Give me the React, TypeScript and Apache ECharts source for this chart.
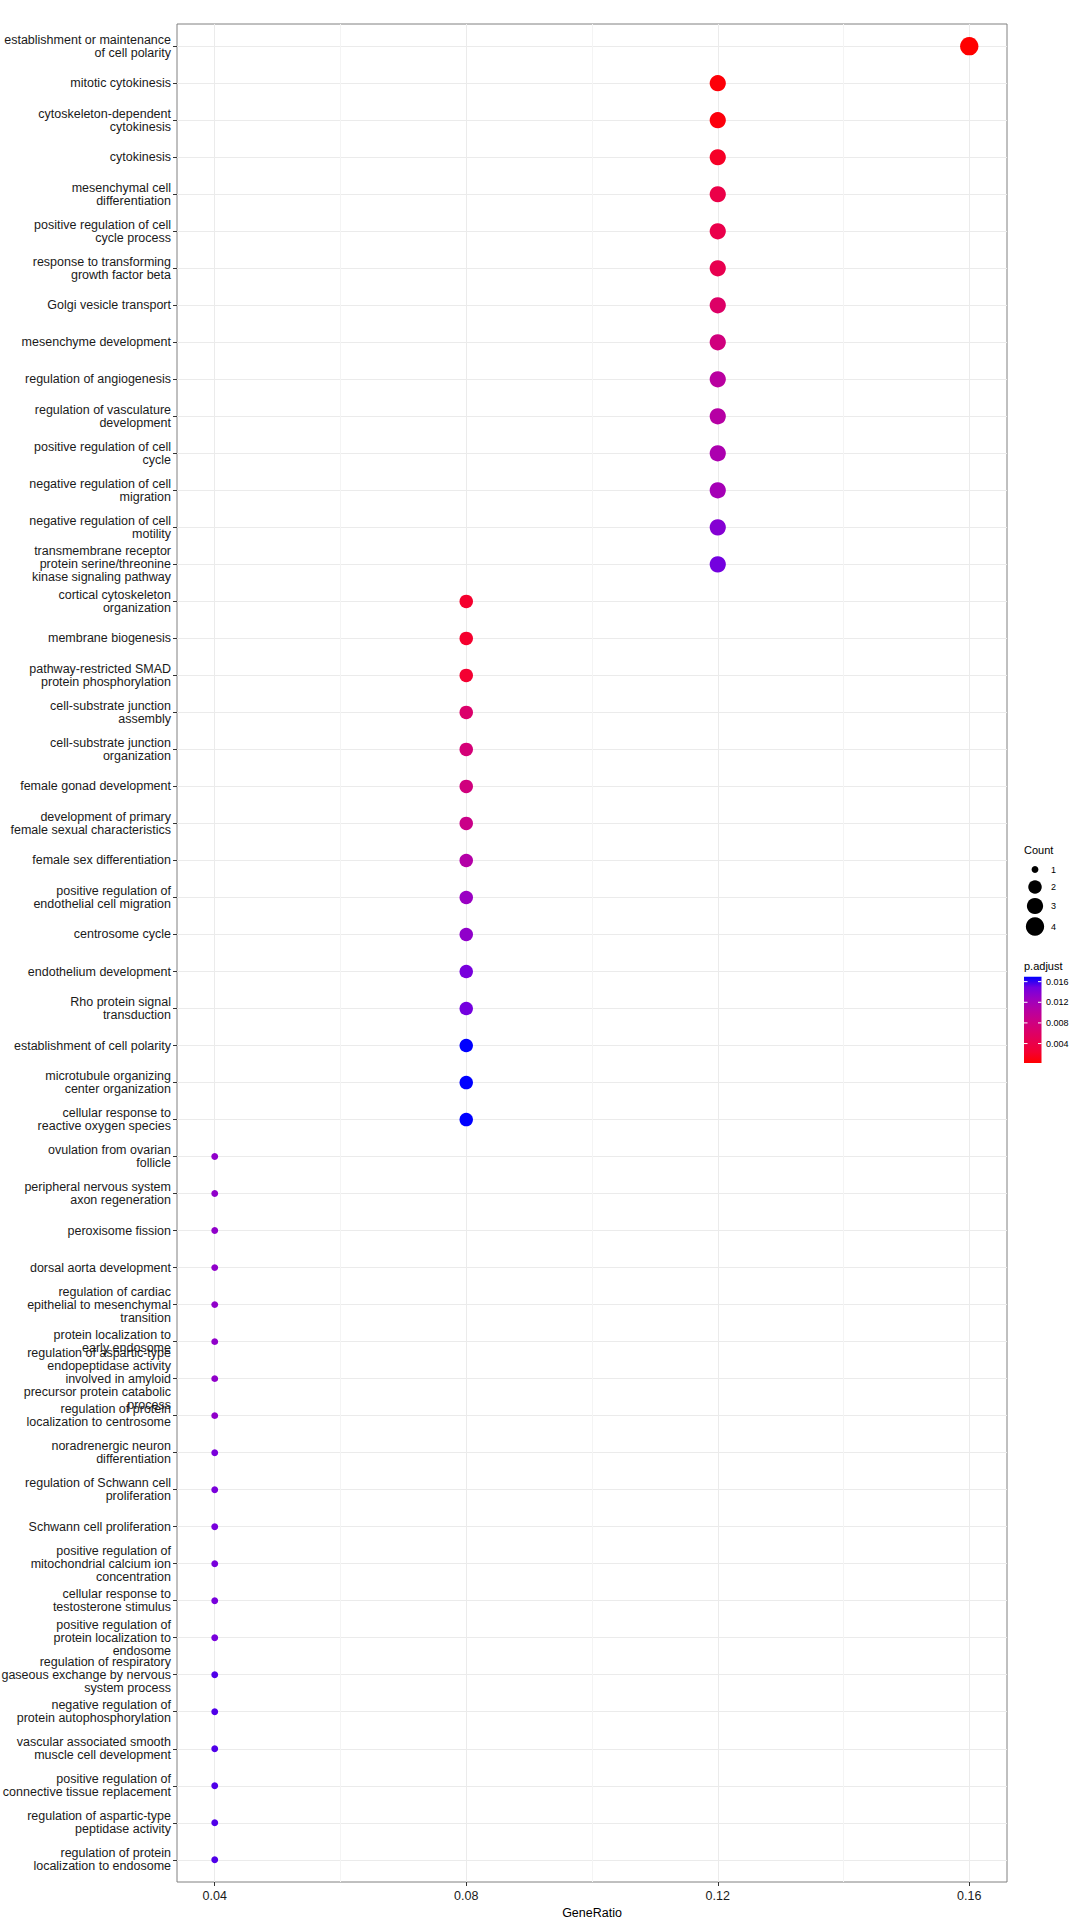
import React, { useEffect, useRef } from "react";
import * as echarts from "echarts";

// ---------- data ----------
const categories: string[] = [
  "establishment or maintenance\nof cell polarity",
  "mitotic cytokinesis",
  "cytoskeleton-dependent\ncytokinesis",
  "cytokinesis",
  "mesenchymal cell\ndifferentiation",
  "positive regulation of cell\ncycle process",
  "response to transforming\ngrowth factor beta",
  "Golgi vesicle transport",
  "mesenchyme development",
  "regulation of angiogenesis",
  "regulation of vasculature\ndevelopment",
  "positive regulation of cell\ncycle",
  "negative regulation of cell\nmigration",
  "negative regulation of cell\nmotility",
  "transmembrane receptor\nprotein serine/threonine\nkinase signaling pathway",
  "cortical cytoskeleton\norganization",
  "membrane biogenesis",
  "pathway-restricted SMAD\nprotein phosphorylation",
  "cell-substrate junction\nassembly",
  "cell-substrate junction\norganization",
  "female gonad development",
  "development of primary\nfemale sexual characteristics",
  "female sex differentiation",
  "positive regulation of\nendothelial cell migration",
  "centrosome cycle",
  "endothelium development",
  "Rho protein signal\ntransduction",
  "establishment of cell polarity",
  "microtubule organizing\ncenter organization",
  "cellular response to\nreactive oxygen species",
  "ovulation from ovarian\nfollicle",
  "peripheral nervous system\naxon regeneration",
  "peroxisome fission",
  "dorsal aorta development",
  "regulation of cardiac\nepithelial to mesenchymal\ntransition",
  "protein localization to\nearly endosome",
  "regulation of aspartic-type\nendopeptidase activity\ninvolved in amyloid\nprecursor protein catabolic\nprocess",
  "regulation of protein\nlocalization to centrosome",
  "noradrenergic neuron\ndifferentiation",
  "regulation of Schwann cell\nproliferation",
  "Schwann cell proliferation",
  "positive regulation of\nmitochondrial calcium ion\nconcentration",
  "cellular response to\ntestosterone stimulus",
  "positive regulation of\nprotein localization to\nendosome",
  "regulation of respiratory\ngaseous exchange by nervous\nsystem process",
  "negative regulation of\nprotein autophosphorylation",
  "vascular associated smooth\nmuscle cell development",
  "positive regulation of\nconnective tissue replacement",
  "regulation of aspartic-type\npeptidase activity",
  "regulation of protein\nlocalization to endosome",
];

const counts: number[] = [
  4,
  3, 3, 3, 3, 3, 3, 3, 3, 3, 3, 3, 3, 3, 3,
  2, 2, 2, 2, 2, 2, 2, 2, 2, 2, 2, 2, 2, 2, 2,
  1, 1, 1, 1, 1, 1, 1, 1, 1, 1, 1, 1, 1, 1, 1, 1, 1, 1, 1, 1,
];

const geneRatio: number[] = [
  0.16,
  0.12, 0.12, 0.12, 0.12, 0.12, 0.12, 0.12, 0.12, 0.12, 0.12, 0.12, 0.12, 0.12, 0.12,
  0.08, 0.08, 0.08, 0.08, 0.08, 0.08, 0.08, 0.08, 0.08, 0.08, 0.08, 0.08, 0.08, 0.08, 0.08,
  0.04, 0.04, 0.04, 0.04, 0.04, 0.04, 0.04, 0.04, 0.04, 0.04,
  0.04, 0.04, 0.04, 0.04, 0.04, 0.04, 0.04, 0.04, 0.04, 0.04,
];

const pAdjust: number[] = [
  0.00023,
  0.00056, 0.00073, 0.0019, 0.0039, 0.0041, 0.0044, 0.0061, 0.0078, 0.0103, 0.0106, 0.0114, 0.0119, 0.0139, 0.0148,
  0.0022, 0.0022, 0.0024, 0.0064, 0.0073, 0.0078, 0.0086, 0.0108, 0.0128, 0.0133, 0.0146, 0.0148, 0.01696, 0.01696, 0.01696,
  0.0133, 0.0133, 0.0133, 0.0133, 0.0133, 0.0133, 0.0133, 0.0133, 0.0145, 0.0145,
  0.0146, 0.0146, 0.0146, 0.0146, 0.0155, 0.0155, 0.0155, 0.0155, 0.0155, 0.0155,
];

const xTicks: number[] = [0.04, 0.08, 0.12, 0.16];
const xMinorTicks: number[] = [0.06, 0.1, 0.14];
const pTicks: number[] = [0.004, 0.008, 0.012, 0.016];
const countLevels: number[] = [1, 2, 3, 4];

// red -> blue gradient, approximating interpolation in CIELAB (ggplot)
const gradientColors: string[] = [
  "#FF0000", "#F40031", "#E8004F", "#DA006C", "#CA0088",
  "#B500A5", "#9A00C3", "#7300E0", "#0000FF",
];

// ---------- scales / layout ----------
const FONT = "'Liberation Sans', Arial, Helvetica, sans-serif";
const P_MIN = Math.min(...pAdjust);
const P_MAX = Math.max(...pAdjust);
const C_MIN = Math.min(...counts);
const C_MAX = Math.max(...counts);
const SIZE_UNIT = 2.29;
const SIZE_RANGE = [3, 8];
const sizeOf = (c: number) =>
  SIZE_UNIT *
  (SIZE_RANGE[0] + (SIZE_RANGE[1] - SIZE_RANGE[0]) * Math.sqrt((c - C_MIN) / (C_MAX - C_MIN)));

const LEG_X = 1024;
const COUNT_TITLE_Y = 850;
const COUNT_KEY_Y = [869.5, 887, 906, 926.5];
const COUNT_KEY_X = 1035;
const PADJ_TITLE_Y = 966;
const BAR_TOP = 976.7;
const BAR_H = 86.3;
const BAR_W = 17.5;

export default function App() {
  const ref = useRef<HTMLDivElement>(null);

  useEffect(() => {
    if (!ref.current) return;
    const chart = echarts.init(ref.current, undefined, { renderer: "svg" });

    const data = categories.map((_, i) => [geneRatio[i], i, pAdjust[i], counts[i]]);

    const graphic: any[] = [];
    graphic.push({
      type: "text",
      style: { text: "Count", x: LEG_X, y: COUNT_TITLE_Y, fill: "#000", fontSize: 11, fontFamily: FONT, verticalAlign: "middle" },
    });
    countLevels.forEach((c, k) => {
      graphic.push({
        type: "circle",
        shape: { cx: COUNT_KEY_X, cy: COUNT_KEY_Y[k], r: sizeOf(c) / 2 },
        style: { fill: "#000" },
      });
      graphic.push({
        type: "text",
        style: { text: String(c), x: 1051, y: COUNT_KEY_Y[k], fill: "#000", fontSize: 9, fontFamily: FONT, verticalAlign: "middle" },
      });
    });
    graphic.push({
      type: "text",
      style: { text: "p.adjust", x: LEG_X, y: PADJ_TITLE_Y, fill: "#000", fontSize: 11, fontFamily: FONT, verticalAlign: "middle" },
    });
    graphic.push({
      type: "rect",
      shape: { x: LEG_X, y: BAR_TOP, width: BAR_W, height: BAR_H },
      style: {
        fill: new echarts.graphic.LinearGradient(
          0, 1, 0, 0,
          gradientColors.map((color, k) => ({ offset: k / (gradientColors.length - 1), color }))
        ),
      },
    });
    pTicks.forEach((v) => {
      const y = BAR_TOP + ((P_MAX - v) / (P_MAX - P_MIN)) * BAR_H;
      graphic.push({
        type: "line",
        shape: { x1: LEG_X, y1: y, x2: LEG_X + 3.5, y2: y },
        style: { stroke: "#fff", lineWidth: 1 },
      });
      graphic.push({
        type: "line",
        shape: { x1: LEG_X + BAR_W - 3.5, y1: y, x2: LEG_X + BAR_W, y2: y },
        style: { stroke: "#fff", lineWidth: 1 },
      });
      graphic.push({
        type: "text",
        style: { text: v.toFixed(3), x: 1046, y, fill: "#000", fontSize: 9, fontFamily: FONT, verticalAlign: "middle" },
      });
    });

    const option: any = {
      animation: false,
      backgroundColor: "#fff",
      grid: {
        left: 177,
        right: 73,
        top: 24,
        bottom: 38,
        show: true,
        borderColor: "#808080",
        borderWidth: 1,
        backgroundColor: "transparent",
        outerBoundsMode: "none",
        containLabel: false,
      },
      xAxis: {
        type: "value",
        position: "bottom",
        min: 0.034,
        max: 0.166,
        name: "GeneRatio",
        nameLocation: "middle",
        nameGap: 18,
        nameTextStyle: { color: "#000", fontSize: 12.5, fontFamily: FONT },
        axisLine: { show: false, onZero: false },
        axisTick: { show: true, length: 4, lineStyle: { color: "#333" }, customValues: xTicks },
        axisLabel: {
          customValues: xTicks,
          color: "#1a1a1a",
          fontSize: 12.5,
          fontFamily: FONT,
          margin: 7,
          formatter: (v: number) => v.toFixed(2),
        },
        splitLine: { show: true, lineStyle: { color: "#EBEBEB", width: 1 } },
      },
      yAxis: {
        type: "value",
        position: "left",
        inverse: true,
        min: -0.6,
        max: categories.length - 1 + 0.6,
        axisLine: { show: false, onZero: false },
        axisTick: {
          show: true,
          length: 4,
          lineStyle: { color: "#333" },
          customValues: categories.map((_, i) => i),
        },
        axisLabel: {
          customValues: categories.map((_, i) => i),
          color: "#1a1a1a",
          fontSize: 12.5,
          lineHeight: 13,
          fontFamily: FONT,
          margin: 6,
          formatter: (v: number) => categories[Math.round(v)] ?? "",
        },
        splitLine: { show: true, lineStyle: { color: "#EBEBEB", width: 1 } },
      },
      visualMap: {
        type: "continuous",
        show: false,
        dimension: 2,
        min: P_MIN,
        max: P_MAX,
        seriesIndex: 0,
        inRange: { color: gradientColors },
      },
      graphic,
      series: [
        {
          type: "scatter",
          data,
          symbol: "circle",
          symbolSize: (v: number[]) => sizeOf(v[3]),
          itemStyle: { opacity: 1 },
          emphasis: { disabled: true },
          markLine: {
            silent: true,
            symbol: ["none", "none"],
            label: { show: false },
            lineStyle: { color: "#F4F4F4", width: 1, type: "solid" },
            emphasis: { disabled: true },
            data: xMinorTicks.map((x) => ({ xAxis: x })),
            z: 0,
          },
        },
      ],
    };

    chart.setOption(option);
    return () => chart.dispose();
  }, []);

  return (
    <div
      ref={ref}
      style={{ position: "fixed", left: 0, top: 0, width: 1080, height: 1920, background: "#fff" }}
    />
  );
}
